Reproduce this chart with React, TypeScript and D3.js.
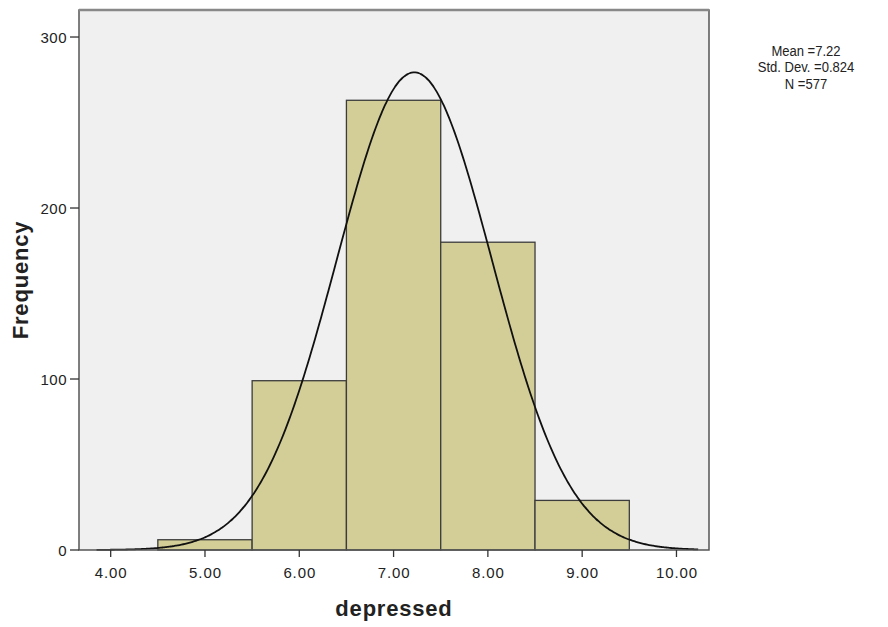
import React from "react";
import * as d3 from "d3";

// histogram bins (lower edge, upper edge, count)
const binStarts = [4.5, 5.5, 6.5, 7.5, 8.5];
const binEnds = [5.5, 6.5, 7.5, 8.5, 9.5];
const counts = [6, 99, 263, 180, 29];
const xTicks = [4, 5, 6, 7, 8, 9, 10];
const yTicks = [0, 100, 200, 300];
const statLines = ["Mean =7.22", "Std. Dev. =0.824", "N =577"];
const mean = 7.22;
const sd = 0.824;
const n = 577;

const W = 888;
const H = 627;
const left = 79, right = 709, top = 10, bottom = 550;

export default function App() {
  const x = d3.scaleLinear().domain([3.664, 10.345]).range([left, right]);
  const y = d3.scaleLinear().domain([0, 315.8]).range([bottom, top]);

  // fitted normal curve, scaled by N * bin width
  const curvePts: [number, number][] = d3.range(3.85, 10.25, 0.02).map((v) => {
    const z = (v - mean) / sd;
    return [v, (n * 1) / (sd * Math.sqrt(2 * Math.PI)) * Math.exp(-0.5 * z * z)];
  });
  const line = d3
    .line<[number, number]>()
    .x((d) => x(d[0]))
    .y((d) => y(d[1]))
    .curve(d3.curveBasis);

  const font = "'Liberation Sans', Arial, sans-serif";

  return (
    <svg width={W} height={H} style={{ position: "absolute", left: 0, top: 0, background: "#fff" }}>
      <rect x={left} y={top} width={right - left} height={bottom - top} fill="#f0f0f0" />
      {counts.map((c, i) => (
        <rect
          key={i}
          x={x(binStarts[i])}
          y={y(c)}
          width={x(binEnds[i]) - x(binStarts[i])}
          height={y(0) - y(c)}
          fill="#d3ce97"
          stroke="#3c3c3c"
          strokeWidth={1.3}
        />
      ))}
      <path d={line(curvePts) || ""} fill="none" stroke="#111" strokeWidth={1.8} />
      <rect x={left} y={top} width={right - left} height={bottom - top} fill="none" stroke="#555" strokeWidth={1.5} />
      <line x1={left} y1={top} x2={right} y2={top} stroke="#888" strokeWidth={2.5} />
      {yTicks.map((t) => (
        <g key={t}>
          <line x1={left - 9} x2={left} y1={y(t)} y2={y(t)} stroke="#333" strokeWidth={1.3} />
          <text x={left - 12} y={y(t) + 6} textAnchor="end" fontFamily={font} fontSize={15} letterSpacing={0.5} fill="#222">
            {t}
          </text>
        </g>
      ))}
      {xTicks.map((t) => (
        <g key={t}>
          <line x1={x(t)} x2={x(t)} y1={bottom} y2={bottom + 7} stroke="#333" strokeWidth={1.3} />
          <text x={x(t) + 0.5} y={bottom + 28} textAnchor="middle" fontFamily={font} fontSize={15} letterSpacing={0.9} fill="#222">
            {d3.format(".2f")(t)}
          </text>
        </g>
      ))}
      <text
        transform={`translate(28,${(top + bottom) / 2}) rotate(-90)`}
        textAnchor="middle"
        fontFamily={font}
        fontSize={22}
        letterSpacing={0.8}
        fontWeight="bold"
        fill="#222"
      >
        Frequency
      </text>
      <text x={(left + right) / 2} y={616} textAnchor="middle" fontFamily={font} fontSize={22} letterSpacing={0.8} fontWeight="bold" fill="#222">
        depressed
      </text>
      <g transform="translate(806,0) scale(0.87,1)">
        {statLines.map((s, i) => (
          <text key={i} x={0} y={56 + i * 16.5} textAnchor="middle" fontFamily={font} fontSize={15} fill="#222">
            {s}
          </text>
        ))}
      </g>
    </svg>
  );
}
